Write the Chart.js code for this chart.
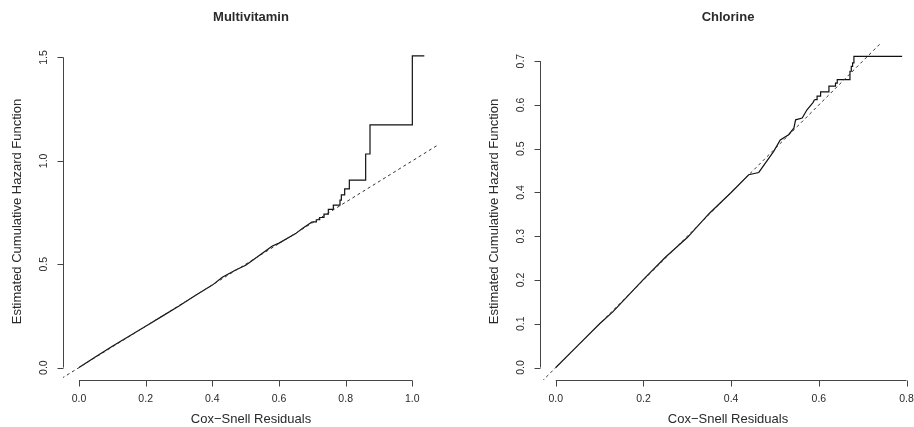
<!DOCTYPE html>
<html>
<head>
<meta charset="utf-8">
<title>Cox-Snell residual plots</title>
<script src="https://cdn.jsdelivr.net/npm/chart.js@4.4.1/dist/chart.umd.min.js"></script>
<style>
  html, body { margin: 0; padding: 0; background: #ffffff; overflow: hidden; }
  #wrap { position: relative; width: 914px; height: 427px; overflow: hidden; }
  .panel { position: absolute; top: 0; }
  #left { left: 0; }
  #right { left: 457px; }
</style>
</head>
<body>
<div id="wrap">
  <div class="panel" id="left"><canvas id="cvLeft" width="457" height="427"></canvas></div>
  <div class="panel" id="right"><canvas id="cvRight" width="462" height="427"></canvas></div>
</div>
<script>
// Multivitamin: smooth early part of the Nelson-Aalen estimate, then the visible steps
const mvSmoothTime = [0, 0.05, 0.10, 0.15, 0.20, 0.25, 0.30, 0.35, 0.40, 0.43, 0.47, 0.50, 0.52, 0.55, 0.58, 0.60, 0.65, 0.67, 0.70];
const mvSmoothHaz  = [0, 0.052, 0.103, 0.152, 0.200, 0.249, 0.298, 0.350, 0.399, 0.437, 0.472, 0.495, 0.518, 0.553, 0.588, 0.602, 0.648, 0.673, 0.705];
const mvStepTime = [0.700, 0.712, 0.722, 0.735, 0.748, 0.763, 0.783, 0.787, 0.797, 0.811, 0.860, 0.873, 1.000, 1.036];
const mvStepHaz  = [0.705, 0.715, 0.726, 0.742, 0.765, 0.786, 0.810, 0.835, 0.864, 0.907, 1.033, 1.174, 1.508, 1.508];
const mvXTicks = [0, 0.2, 0.4, 0.6, 0.8, 1.0];
const mvYTicks = [0, 0.5, 1.0, 1.5];

// Chlorine
const clSmoothTime = [0, 0.05, 0.10, 0.13, 0.20, 0.25, 0.30, 0.35, 0.40, 0.44, 0.463, 0.478, 0.497, 0.512, 0.531, 0.543, 0.547, 0.562, 0.573, 0.587, 0.590];
const clSmoothHaz  = [0, 0.050, 0.100, 0.127, 0.2015, 0.252, 0.297, 0.352, 0.400, 0.4405, 0.4457, 0.467, 0.494, 0.520, 0.532, 0.547, 0.566, 0.570, 0.589, 0.606, 0.612];
const clStepTime = [0.590, 0.596, 0.604, 0.623, 0.638, 0.642, 0.671, 0.674, 0.677, 0.680, 0.790];
const clStepHaz  = [0.612, 0.620, 0.630, 0.643, 0.650, 0.658, 0.677, 0.688, 0.696, 0.711, 0.711];
const clXTicks = [0, 0.2, 0.4, 0.6, 0.8];
const clYTicks = [0, 0.1, 0.2, 0.3, 0.4, 0.5, 0.6, 0.7];

// reference line y = x
const refLine = [-1, 2];

const FONT = "'Liberation Sans', Arial, Helvetica, sans-serif";
const TEXT_COLOR = '#2a2a2a';
const AXIS_COLOR = '#444444';
const LINE_COLOR = '#111111';

function toPoints(xs, ys) {
    return xs.map((x, i) => ({ x: x, y: ys[i] }));
}

// R-style axes: line only from first to last tick, outward ticks, rotated y labels
const rAxesPlugin = {
    id: 'rAxes',
    afterDraw(chart, args, opts) {
        const ctx = chart.ctx;
        const xs = chart.scales.x;
        const ys = chart.scales.y;
        const area = chart.chartArea;
        const tickLen = 6;

        ctx.save();
        ctx.strokeStyle = AXIS_COLOR;
        ctx.lineWidth = 1;

        // x axis
        const ay = Math.round(area.bottom) + 0.5;
        const x0 = xs.getPixelForValue(opts.xTicks[0]);
        const x1 = xs.getPixelForValue(opts.xTicks[opts.xTicks.length - 1]);
        ctx.beginPath();
        ctx.moveTo(x0, ay);
        ctx.lineTo(x1, ay);
        opts.xTicks.forEach(v => {
            const px = Math.round(xs.getPixelForValue(v)) + 0.5;
            ctx.moveTo(px, ay);
            ctx.lineTo(px, ay + tickLen);
        });
        ctx.stroke();

        // y axis
        const ax = Math.round(area.left) + 0.5;
        const y0 = ys.getPixelForValue(opts.yTicks[0]);
        const y1 = ys.getPixelForValue(opts.yTicks[opts.yTicks.length - 1]);
        ctx.beginPath();
        ctx.moveTo(ax, y0);
        ctx.lineTo(ax, y1);
        opts.yTicks.forEach(v => {
            const py = Math.round(ys.getPixelForValue(v)) + 0.5;
            ctx.moveTo(ax, py);
            ctx.lineTo(ax - tickLen, py);
        });
        ctx.stroke();

        // tick labels
        ctx.fillStyle = TEXT_COLOR;
        ctx.font = '10.5px ' + FONT;
        ctx.textAlign = 'center';
        ctx.textBaseline = 'middle';
        opts.xTicks.forEach(v => {
            ctx.fillText(v.toFixed(1), xs.getPixelForValue(v), ay + 19);
        });
        opts.yTicks.forEach(v => {
            ctx.save();
            ctx.translate(ax - 19, ys.getPixelForValue(v));
            ctx.rotate(-Math.PI / 2);
            ctx.fillText(v.toFixed(1), 0, 0);
            ctx.restore();
        });

        // axis titles
        const cx = (area.left + area.right) / 2;
        const cy = (area.top + area.bottom) / 2;
        ctx.font = '13px ' + FONT;
        ctx.fillText(opts.xTitle, cx, ay + 39);
        ctx.save();
        ctx.translate(ax - 46, cy);
        ctx.rotate(-Math.PI / 2);
        ctx.fillText(opts.yTitle, 0, 0);
        ctx.restore();

        // main title
        ctx.font = 'bold 13px ' + FONT;
        ctx.fillText(opts.title, cx, 17);

        ctx.restore();
    }
};

function makePanel(canvasId, cfg) {
    return new Chart(document.getElementById(canvasId), {
        type: 'line',
        data: {
            datasets: [
                {
                    data: toPoints(refLine, refLine),
                    borderColor: '#333333',
                    borderWidth: 1,
                    borderDash: [3, 3],
                    clip: 0
                },
                {
                    data: toPoints(cfg.smoothTime, cfg.smoothHaz),
                    borderColor: LINE_COLOR,
                    borderWidth: 1.2,
                    clip: 0
                },
                {
                    data: toPoints(cfg.stepTime, cfg.stepHaz),
                    borderColor: LINE_COLOR,
                    borderWidth: 1.2,
                    stepped: 'before',
                    clip: 0
                }
            ]
        },
        options: {
            responsive: false,
            animation: false,
            events: [],
            layout: { padding: cfg.padding },
            elements: {
                point: { radius: 0 },
                line: { tension: 0, fill: false }
            },
            scales: {
                x: { type: 'linear', min: cfg.xMin, max: cfg.xMax, display: false },
                y: { type: 'linear', min: cfg.yMin, max: cfg.yMax, display: false }
            },
            plugins: {
                legend: { display: false },
                tooltip: { enabled: false },
                rAxes: {
                    title: cfg.title,
                    xTitle: 'Cox\u2212Snell Residuals',
                    yTitle: 'Estimated Cumulative Hazard Function',
                    xTicks: cfg.xTicks,
                    yTicks: cfg.yTicks
                }
            }
        },
        plugins: [rAxesPlugin]
    });
}

makePanel('cvLeft', {
    title: 'Multivitamin',
    smoothTime: mvSmoothTime, smoothHaz: mvSmoothHaz,
    stepTime: mvStepTime, stepHaz: mvStepHaz,
    xTicks: mvXTicks, yTicks: mvYTicks,
    xMin: -0.048, xMax: 1.08, yMin: -0.06, yMax: 1.57,
    padding: { left: 63, right: 18, top: 43, bottom: 47 }
});

makePanel('cvRight', {
    title: 'Chlorine',
    smoothTime: clSmoothTime, smoothHaz: clSmoothHaz,
    stepTime: clStepTime, stepHaz: clStepHaz,
    xTicks: clXTicks, yTicks: clYTicks,
    xMin: -0.036, xMax: 0.8216, yMin: -0.0285, yMax: 0.7415,
    padding: { left: 83, right: 3, top: 43, bottom: 47 }
});
</script>
</body>
</html>
